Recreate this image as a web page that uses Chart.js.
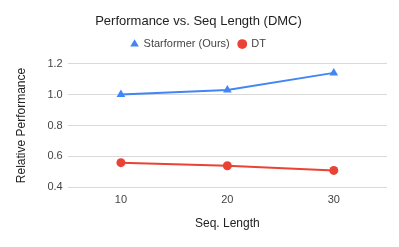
<!DOCTYPE html>
<html>
<head>
<meta charset="utf-8">
<script src="https://cdn.jsdelivr.net/npm/chart.js@4/dist/chart.umd.min.js"></script>
<style>
  html, body { margin: 0; padding: 0; background: #fff; }
  #wrap { width: 399px; height: 247px; }
</style>
</head>
<body>
<div id="wrap"><canvas id="chart" width="399" height="247"></canvas></div>
<script>
// Sequence lengths on the x axis
const seqLengths = ['10', '20', '30'];
// Relative performance per method
const starformerValues = [1.00, 1.03, 1.14];
const dtValues = [0.56, 0.54, 0.51];
const yTicks = [0.4, 0.6, 0.8, 1.0, 1.2];

const BLUE = '#4285f4';
const RED = '#ea4335';
const FONT = "'Liberation Sans', Arial, sans-serif";

Chart.defaults.font.family = FONT;
Chart.defaults.color = '#444';

// small gap between the legend and the plot area
const legendGap = {
    id: 'legendGap',
    beforeInit(chart) {
        Chart.layouts.addBox(chart, {
            position: 'top',
            weight: 0,
            fullSize: true,
            options: {},
            isHorizontal: () => true,
            update(maxWidth) {
                this.width = maxWidth;
                this.height = 4;
            },
            draw() {}
        });
    }
};

const ctx = document.getElementById('chart').getContext('2d');
new Chart(ctx, {
    type: 'line',
    data: {
        labels: seqLengths,
        datasets: [{
            label: 'Starformer (Ours)',
            data: starformerValues,
            borderColor: BLUE,
            backgroundColor: BLUE,
            borderWidth: 2,
            pointStyle: 'triangle',
            pointRadius: 5,
            pointBorderWidth: 0
        }, {
            label: 'DT',
            data: dtValues,
            borderColor: RED,
            backgroundColor: RED,
            borderWidth: 2,
            pointStyle: 'circle',
            pointRadius: 4.5,
            pointBorderWidth: 0
        }]
    },
    options: {
        responsive: false,
        animation: false,
        layout: { padding: { left: 10, right: 12, top: 8, bottom: 16 } },
        plugins: {
            title: {
                display: true,
                text: 'Performance vs. Seq Length (DMC)',
                color: '#222',
                font: { size: 13, weight: 'normal' },
                padding: { top: 6, bottom: 0 }
            },
            legend: {
                labels: {
                    usePointStyle: true,
                    boxWidth: 7,
                    boxHeight: 7,
                    color: '#444',
                    font: { size: 11 },
                    padding: 9
                }
            },
            tooltip: { enabled: false }
        },
        scales: {
            x: {
                offset: true,
                grid: { display: false, drawTicks: false },
                border: { display: false },
                ticks: { color: '#444', font: { size: 11 }, padding: 6 },
                title: {
                    display: true,
                    text: 'Seq. Length',
                    color: '#222',
                    font: { size: 12 },
                    padding: { top: 4, bottom: 0 }
                }
            },
            y: {
                min: 0.4,
                max: 1.2,
                afterBuildTicks: (axis) => {
                    axis.ticks = yTicks.map(v => ({ value: v }));
                },
                grid: { color: '#d9d9d9', drawTicks: false },
                border: { display: false },
                ticks: {
                    color: '#444',
                    font: { size: 11 },
                    padding: 5,
                    callback: (v) => v.toFixed(1)
                },
                title: {
                    display: true,
                    text: 'Relative Performance',
                    color: '#222',
                    font: { size: 12 },
                    padding: { bottom: 14 }
                }
            }
        }
    },
    plugins: [legendGap]
});
</script>
</body>
</html>
